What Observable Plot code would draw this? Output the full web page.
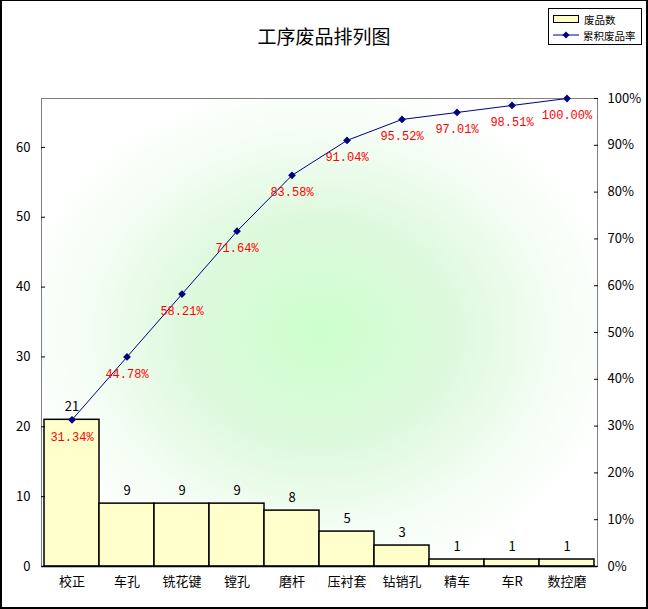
<!DOCTYPE html>
<html><head><meta charset="utf-8">
<script src="https://cdn.jsdelivr.net/npm/d3@7"></script>
<script src="https://cdn.jsdelivr.net/npm/@observablehq/plot@0.6"></script>
<style>
body{margin:0;background:#fff;}
#wrap{position:relative;width:648px;height:609px;overflow:hidden;font-family:"Noto Sans CJK SC",sans-serif;}
#border{position:absolute;left:0;top:0;width:648px;height:609px;box-sizing:border-box;border:2px solid #000;border-top-width:1px;pointer-events:none;}
#title{position:absolute;left:0;width:648px;top:22px;text-align:center;font-size:19px;color:#000;}
#legend{position:absolute;left:548px;top:8px;width:94px;height:37px;box-sizing:border-box;border:1px solid #000;background:#fff;font-size:10.5px;}
.li{position:absolute;left:4px;height:14px;display:flex;align-items:center;}
</style></head>
<body>
<div id="wrap">
<div id="chart"></div>
<div id="title">工序废品排列图</div>
<div id="legend">
  <div class="li" style="top:3px"><span style="display:inline-block;width:24px;height:6px;border:1px solid #000;background:#ffffcc;margin-right:5px"></span>废品数</div>
  <div class="li" style="top:19px"><svg width="26" height="10" style="margin-right:4px"><line x1="0" y1="5" x2="26" y2="5" stroke="#000080"/><path d="M13,1.5L16.5,5L13,8.5L9.5,5Z" fill="#000080"/></svg>累积废品率</div>
</div>
<div id="border"></div>
</div>
<script>
const categories = ["校正","车孔","铣花键","镗孔","磨杆","压衬套","钻销孔","精车","车R","数控磨"];
const counts = [21,9,9,9,8,5,3,1,1,1];
const leftTicks = [0,10,20,30,40,50,60];
const pctTicks = [0,10,20,30,40,50,60,70,80,90,100];

const total = d3.sum(counts);
let run = 0;
const data = categories.map((c,i)=>{ run += counts[i]; return {cat:c, count:counts[i], cum:run, pct:run/total}; });

const chart = Plot.plot({
  width: 648, height: 609,
  marginLeft: 41, marginRight: 51, marginTop: 98, marginBottom: 43,
  style: {fontFamily: "Noto Sans CJK SC, sans-serif", background: "transparent"},
  x: {domain: categories, padding: 0, axis: null, label: null},
  y: {domain: [0, total], axis: null, label: null},
  marks: [
    Plot.frame({fill: "url(#bg)", stroke: "#808080"}),
    Plot.barY(data, {x: "cat", y: "count", fill: "#ffffcc", stroke: "#000", strokeWidth: 1.5, inset: 0}),
    Plot.axisX({anchor: "bottom", tickSize: 0, tickPadding: 10, fontSize: 13, fill: "#000", label: null}),
    Plot.ruleY([0], {stroke: "#000", strokeWidth: 1.5}),
    Plot.axisY(leftTicks, {anchor: "left", tickSize: -4, tickPadding: 15, fontSize: 13, line: true, stroke: "#000", fill: "#000", label: null}),
    Plot.axisY(pctTicks.map(p => p/100*total), {anchor: "right", tickSize: -4, tickPadding: 14, fontSize: 13, line: true, stroke: "#000", fill: "#000", label: null,
      tickFormat: (d) => Math.round(d/total*100) + "%"}),
    Plot.text(data, {x: "cat", y: "count", text: d => String(d.count), dy: -13, fontSize: 13, fill: "#000"}),
    Plot.line(data, {x: "cat", y: "cum", stroke: "#000080", strokeWidth: 1}),
    Plot.dot(data, {x: "cat", y: "cum", symbol: "diamond2", r: 3.5, fill: "#000080", stroke: "none"}),
    Plot.text(data, {x: "cat", y: "cum", text: d => (d.pct*100).toFixed(2) + "%", dy: 17, fontSize: 12, fill: "#ff0000", fontFamily: "Liberation Mono, monospace"})
  ]
});
const svg = d3.select(chart);
const defs = svg.insert("defs", ":first-child");
const g = defs.append("radialGradient").attr("id", "bg").attr("cx", "50%").attr("cy", "50%").attr("r", "55%");
g.append("stop").attr("offset", "0%").attr("stop-color", "#ccffcc");
g.append("stop").attr("offset", "45%").attr("stop-color", "#def9de");
g.append("stop").attr("offset", "75%").attr("stop-color", "#f3fdf3");
g.append("stop").attr("offset", "100%").attr("stop-color", "#ffffff");
document.getElementById("chart").appendChild(chart);
</script>
</body></html>
